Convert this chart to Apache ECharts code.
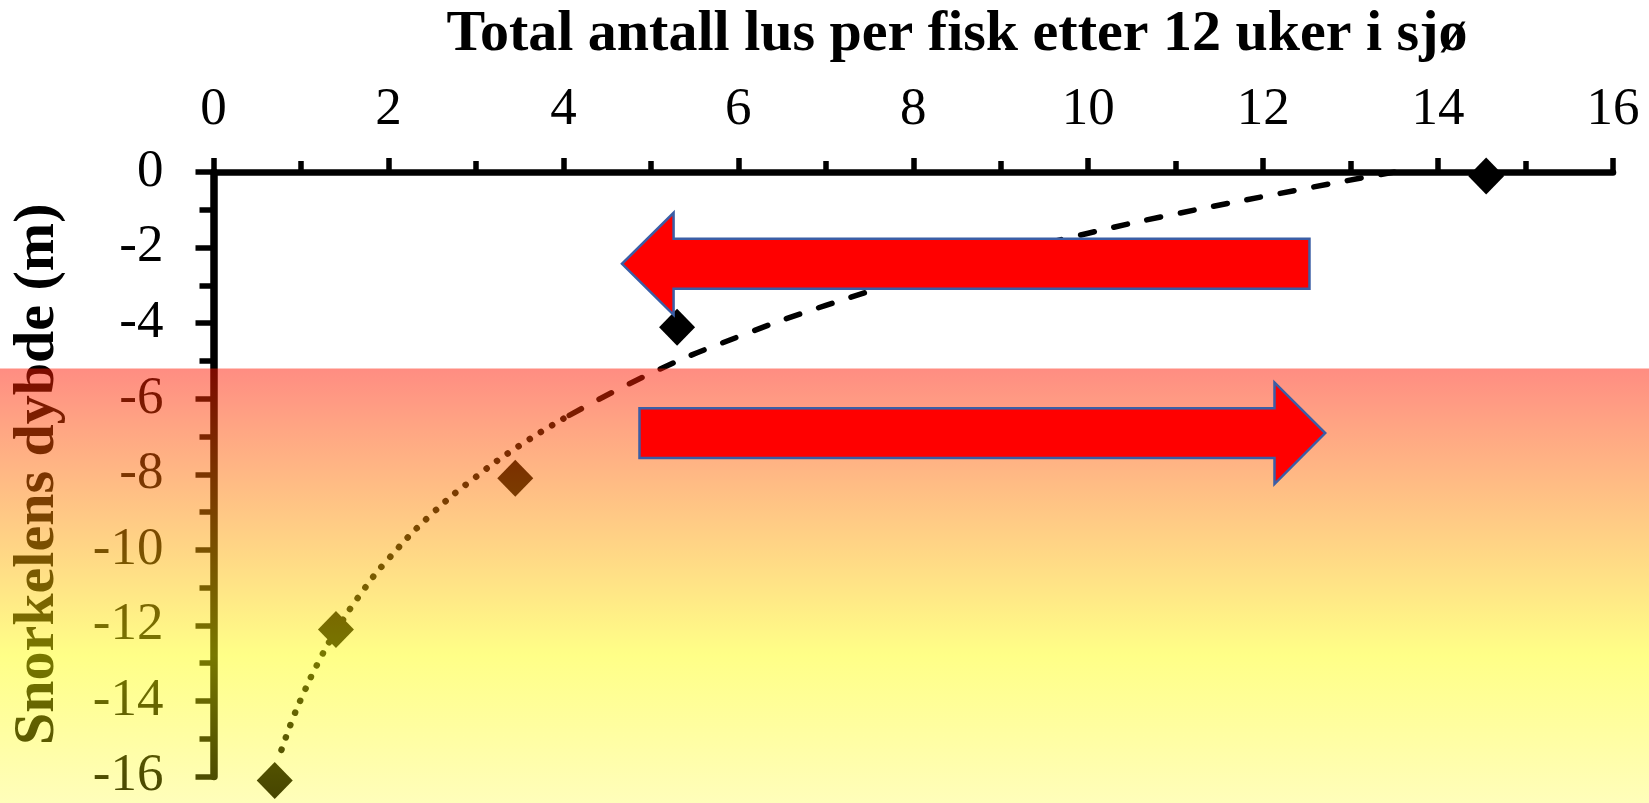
<!DOCTYPE html>
<html><head><meta charset="utf-8">
<script src="https://cdn.jsdelivr.net/npm/echarts@6/dist/echarts.min.js"></script>
<style>html,body{margin:0;padding:0;background:#fff}#c{width:1649px;height:803px}</style>
</head><body><div id="c"></div>
<script>
// ---- data ----
const titleText = 'Total antall lus per fisk etter 12 uker i sjø';
const yAxisTitle = 'Snorkelens dybde (m)';
const lice  = [14.55, 5.3, 3.45, 1.4, 0.7];     // total lice per fish
const depth = [0, -4, -8, -12, -16];            // snorkel depth (m)
// trendline
const trendUpperX = [13.5, 12.5, 11, 10, 9, 8, 7, 6, 5, 4];
const trendUpperY = [0, -0.43, -1.11, -1.62, -2.19, -2.82, -3.53, -4.36, -5.33, -6.53];
const trendLowerX = [4, 3.5, 3, 2.5, 2, 1.7, 1.4, 1.2, 1, 0.9, 0.8, 0.75];
const trendLowerY = [-6.53, -7.24, -8.07, -9.04, -10.24, -11.11, -12.15, -12.97, -13.95, -14.51, -15.14, -15.49];
// annotation arrows (axis units)
const leftArrow  = [[12.53,-1.77],[5.26,-1.77],[5.26,-1.08],[4.67,-2.43],[5.26,-3.78],[5.26,-3.09],[12.53,-3.09]];
const rightArrow = [[4.87,-6.25],[12.13,-6.25],[12.13,-5.57],[12.71,-6.91],[12.13,-8.26],[12.13,-7.57],[4.87,-7.57]];
const overlayTopDepth = -5.2;

const serif = 'Liberation Serif, Times New Roman, serif';
const zip = (a, b) => a.map((v, i) => [v, b[i]]);

const chart = echarts.init(document.getElementById('c'), null, {renderer: 'canvas'});
const labelStyle = {fontFamily: serif, fontSize: 53, color: '#000'};
const common = {
  type: 'value', interval: 2,
  splitLine: {show: false}, minorSplitLine: {show: false}
};
chart.setOption({
  animation: false,
  backgroundColor: '#fff',
  title: {
    text: titleText, left: 952, top: 1, textAlign: 'center',
    textStyle: {fontFamily: serif, fontWeight: 'bold', fontSize: 58, color: '#000'}
  },
  grid: {left: 213.5, right: 36, top: 172, bottom: 23.5, containLabel: false},
  xAxis: Object.assign({}, common, {
    position: 'top', min: 0, max: 16,
    axisLine: {show: true, onZero: false, lineStyle: {color: '#000', width: 6.5}},
    axisTick: {show: true, length: 14, lineStyle: {color: '#000', width: 5.5}},
    minorTick: {show: true, splitNumber: 2, length: 11, lineStyle: {color: '#000', width: 5.5}},
    axisLabel: Object.assign({}, labelStyle, {margin: 35})
  }),
  yAxis: Object.assign({}, common, {
    min: -16, max: 0,
    axisLine: {show: true, onZero: false, lineStyle: {color: '#000', width: 7.5}},
    axisTick: {show: true, length: 18, lineStyle: {color: '#000', width: 5.5}},
    minorTick: {show: true, splitNumber: 2, length: 14, lineStyle: {color: '#000', width: 5.5}},
    axisLabel: Object.assign({}, labelStyle, {margin: 50}),
    name: yAxisTitle, nameLocation: 'middle', nameRotate: 90, nameGap: 146,
    nameTextStyle: {fontFamily: serif, fontWeight: 'bold', fontSize: 58, color: '#000'}
  }),
  series: [
    {type: 'line', data: zip(trendUpperX, trendUpperY), smooth: true, symbol: 'none', z: 3,
     lineStyle: {color: '#000', width: 5.5, type: [14, 20], cap: 'round'}},
    {type: 'line', data: zip(trendLowerX, trendLowerY), smooth: true, symbol: 'none', z: 3,
     lineStyle: {color: '#000', width: 6.5, type: [0.1, 13], cap: 'round'}},
    {type: 'scatter', data: zip(lice, depth), symbol: 'diamond', symbolSize: [36, 37],
     symbolOffset: [0, 4], z: 5, itemStyle: {color: '#000', opacity: 1}}
  ]
});

function px(p) { return chart.convertToPixel({gridIndex: 0}, p); }
const topPx = px([0, overlayTopDepth])[1];
const H = 803;
chart.setOption({
  graphic: [
    {type: 'rect', z: 50, silent: true,
     shape: {x: 0, y: topPx, width: 1649, height: H - topPx},
     style: {fill: {type: 'linear', x: 0, y: 0, x2: 0, y2: 1, colorStops: [
       {offset: 0, color: 'rgba(255,22,0,0.49)'},
       {offset: 0.66, color: 'rgba(255,255,0,0.47)'},
       {offset: 1, color: 'rgba(255,250,0,0.27)'}
     ]}}},
    {type: 'polygon', z: 60, silent: true, shape: {points: leftArrow.map(px)},
     style: {fill: '#ff0000', stroke: '#3b5ea6', lineWidth: 2.5}},
    {type: 'polygon', z: 60, silent: true, shape: {points: rightArrow.map(px)},
     style: {fill: '#ff0000', stroke: '#3b5ea6', lineWidth: 2.5}}
  ]
});
</script></body></html>
